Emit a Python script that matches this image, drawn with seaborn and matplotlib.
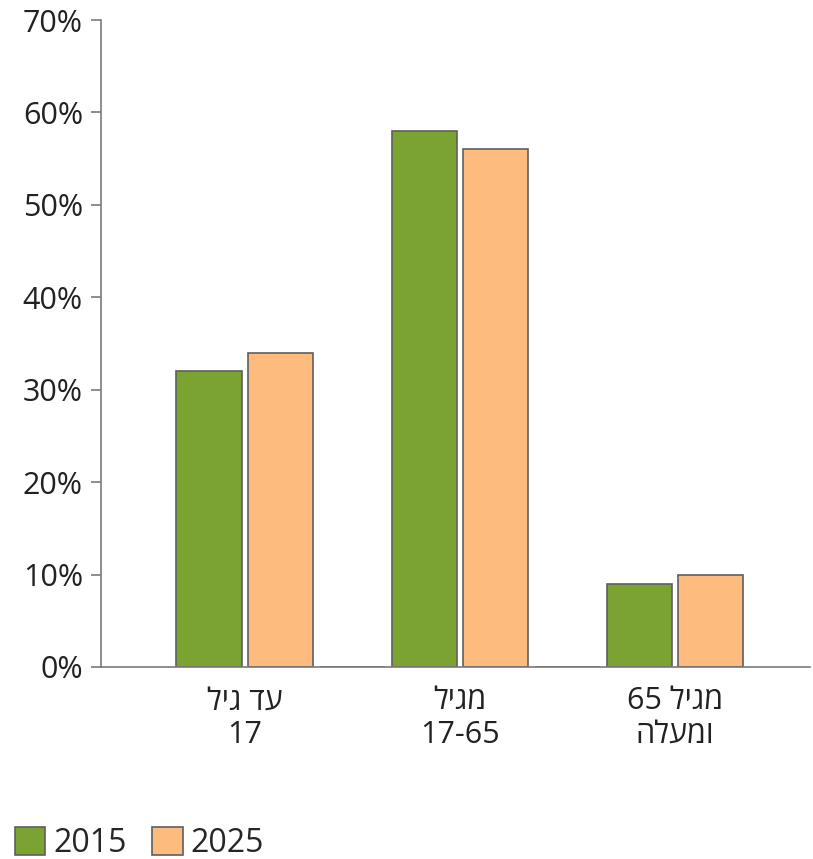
import re
import numpy as np
import pandas as pd
import matplotlib
matplotlib.use("Agg")
import matplotlib.pyplot as plt
from matplotlib.patches import Patch
import seaborn as sns

# ---- data ----
categories = ["עד גיל\n17", "מגיל\n17-65", "מגיל 65\nומעלה"]
values_2015 = [32, 58, 9]
values_2025 = [34, 56, 10]
values_gap = [0, 0, np.nan]   # empty separator series drawn at zero
series = ["2015", "2025", "gap"]
yticks = [0, 10, 20, 30, 40, 50, 60, 70]

colors = {"2015": "#7BA332", "2025": "#FDBC7D", "gap": "#FFFFFF"}
edge = "#5F5F5F"


def visual(text):
    out = []
    for line in text.split("\n"):
        if re.search(r"[\u0590-\u05FF]", line):
            toks = re.findall(r"[0-9\-]+|[^0-9\-]+", line)
            toks = [t if re.fullmatch(r"[0-9\-]+", t) else t[::-1] for t in toks[::-1]]
            out.append("".join(toks))
        else:
            out.append(line)
    return "\n".join(out)


rows = []
for c, a, b, g in zip(categories, values_2015, values_2025, values_gap):
    rows.append((c, "2015", a))
    rows.append((c, "2025", b))
    rows.append((c, "gap", g))
df = pd.DataFrame(rows, columns=["cat", "year", "val"])

sns.set_theme(style="white")
plt.rcParams["font.family"] = ["Open Sans", "DejaVu Sans"]

fig = plt.figure(figsize=(8.13, 8.59), dpi=100)
ax = fig.add_axes([101 / 813, 1 - 667 / 859, (810 - 101) / 813, (667 - 20) / 859])

sns.barplot(data=df, x="cat", y="val", hue="year", hue_order=series,
            palette=colors, saturation=1, width=1.0, gap=0.09, errorbar=None,
            edgecolor=edge, linewidth=1.2, legend=False, ax=ax)

ax.set_ylim(0, 70)
ax.set_yticks(yticks)
ax.set_yticklabels([f"{v}%" for v in yticks], fontsize=22, color="#222222")
ax.set_xticks([i - 1 / 6 for i in range(len(categories))])
ax.set_xticklabels([visual(c) for c in categories], fontsize=22, color="#222222",
                   linespacing=1.15)
ax.set_xlim(-0.836, 2.461)
ax.set_xlabel("")
ax.set_ylabel("")

for s in ["top", "right"]:
    ax.spines[s].set_visible(False)
for s in ["left", "bottom"]:
    ax.spines[s].set_color("#7A7A7A")
    ax.spines[s].set_linewidth(1.2)
ax.tick_params(axis="y", length=7, width=1.2, color="#7A7A7A", pad=6, left=True)
ax.tick_params(axis="x", length=0, pad=14)

handles = [Patch(facecolor=colors[s], edgecolor=edge, linewidth=1.2, label=s)
           for s in ["2015", "2025"]]
fig.legend(handles=handles, loc="lower left", bbox_to_anchor=(-0.009, -0.027),
           ncol=2, frameon=False, fontsize=23, handlelength=0.95, handleheight=0.95,
           handletextpad=0.25, columnspacing=0.8, borderaxespad=0.3)

fig.savefig("out.png", dpi=100)
